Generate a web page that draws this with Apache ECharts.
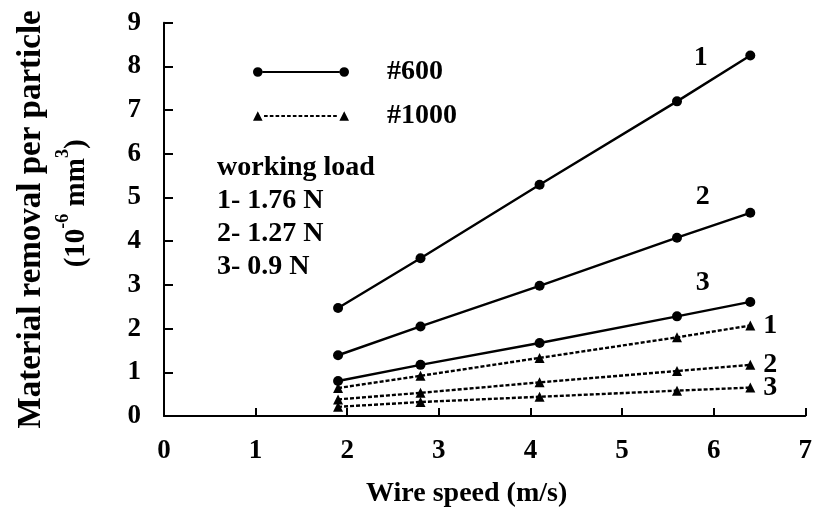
<!DOCTYPE html>
<html><head><meta charset="utf-8">
<script src="https://cdn.jsdelivr.net/npm/echarts@6/dist/echarts.min.js"></script>
<style>html,body{margin:0;padding:0;background:#fff}#c{width:815px;height:513px}</style>
</head><body><div id="c"></div>
<script>
// ---- data ----
const wireSpeed = [1.9, 2.8, 4.1, 5.6, 6.4];
const mesh600Load1 = [2.47, 3.61, 5.29, 7.20, 8.25];
const mesh600Load2 = [1.39, 2.05, 2.98, 4.08, 4.65];
const mesh600Load3 = [0.80, 1.17, 1.67, 2.28, 2.61];
const mesh1000Load1 = [0.64, 0.92, 1.33, 1.80, 2.07];
const mesh1000Load2 = [0.38, 0.53, 0.77, 1.03, 1.17];
const mesh1000Load3 = [0.21, 0.32, 0.44, 0.58, 0.65];
const loadIds = ['1', '2', '3'];
const mesh600LabelAt = [[5.86, 8.2], [5.88, 5.02], [5.88, 3.05]];
const xTicks = [0, 1, 2, 3, 4, 5, 6, 7];
const yTicks = [0, 1, 2, 3, 4, 5, 6, 7, 8, 9];
const noteLines = ['working load', '1- 1.76 N', '2- 1.27 N', '3- 0.9 N'];

const FONT = "'Liberation Serif', 'Times New Roman', serif";
const pairs = v => wireSpeed.map((x, i) => [x, v[i]]);

// legend icons (line with end markers)
const icon600 = 'path://M0,5a5,5 0 1,0 10,0a5,5 0 1,0 -10,0Z M90,5a5,5 0 1,0 10,0a5,5 0 1,0 -10,0Z M10,3.9L90,3.9L90,6.1L10,6.1Z';
let dashes = '';
for (let s = 11.5; s < 88; s += 6) {
  const e = Math.min(s + 3.8, 89);
  dashes += ` M${s},4L${e},4L${e},6L${s},6Z`;
}
const icon1000 = 'path://M0,10L5,0L10,10Z M90,10L95,0L100,10Z' + dashes;

const solid = (name, vals, idx) => ({
  name: name, type: 'line', data: pairs(vals),
  symbol: 'circle', symbolSize: 10,
  lineStyle: { color: '#000', width: 2.4 }, itemStyle: { color: '#000' },
  markPoint: {
    symbol: 'circle', symbolSize: 0,
    label: { show: true, position: 'inside', formatter: loadIds[idx], color: '#000',
             fontFamily: FONT, fontWeight: 'bold', fontSize: 28 },
    data: [{ coord: mesh600LabelAt[idx], value: loadIds[idx] }]
  }
});
const dashed = (name, vals, idx) => ({
  name: name, type: 'line', data: pairs(vals),
  symbol: 'triangle', symbolSize: 10,
  lineStyle: { color: '#000', width: 2.4, type: [4, 2] }, itemStyle: { color: '#000' },
  endLabel: { show: true, formatter: loadIds[idx], distance: 13, color: '#000',
              fontFamily: FONT, fontWeight: 'bold', fontSize: 28 }
});

const chart = echarts.init(document.getElementById('c'), null, { renderer: 'canvas' });
chart.setOption({
  animation: false,
  backgroundColor: '#fff',
  grid: { left: 156, right: 5, top: 22.7, bottom: 92, containLabel: false },
  legend: {
    orient: 'vertical', left: 248, top: 53, itemGap: 16,
    itemWidth: 96, itemHeight: 10,
    data: [{ name: '#600', icon: icon600 }, { name: '#1000', icon: icon1000 }],
    textStyle: { color: '#000', fontFamily: FONT, fontWeight: 'bold', fontSize: 28,
                 lineHeight: 28, padding: [0, 0, 0, 33] }
  },
  xAxis: {
    type: 'value', min: xTicks[0], max: xTicks[xTicks.length - 1], interval: 1,
    name: 'Wire speed (m/s)', nameLocation: 'middle', nameGap: 64,
    nameTextStyle: { color: '#000', fontFamily: FONT, fontWeight: 'bold', fontSize: 28, padding: [0, 36, 0, 0] },
    axisLine: { lineStyle: { color: '#000', width: 2 } },
    axisTick: { inside: true, length: 8, lineStyle: { color: '#000', width: 2 } },
    axisLabel: { color: '#000', fontFamily: FONT, fontWeight: 'bold', fontSize: 27, margin: 22 },
    splitLine: { show: false }
  },
  yAxis: {
    type: 'value', min: yTicks[0], max: yTicks[yTicks.length - 1], interval: 1,
    name: 'Material removal per particle\n{a|(10}{s|-6}{b| mm}{s|3}{b|)}',
    nameLocation: 'middle', nameRotate: 90, nameGap: 64,
    nameTextStyle: {
      color: '#000', fontFamily: FONT, fontWeight: 'bold', fontSize: 33, lineHeight: 46,
      rich: {
        a: { color: '#000', fontFamily: FONT, fontWeight: 'bold', fontSize: 29, padding: [0, 0, 0, 32] },
        b: { color: '#000', fontFamily: FONT, fontWeight: 'bold', fontSize: 29 },
        s: { color: '#000', fontFamily: FONT, fontWeight: 'bold', fontSize: 18, verticalAlign: 'top' }
      }
    },
    axisLine: { show: true, lineStyle: { color: '#000', width: 2 } },
    axisTick: { show: true, inside: true, length: 9, lineStyle: { color: '#000', width: 2 } },
    axisLabel: { color: '#000', fontFamily: FONT, fontWeight: 'bold', fontSize: 27, margin: 23 },
    splitLine: { show: false }
  },
  graphic: [{
    type: 'text', left: 217, top: 151,
    style: { text: noteLines.join('\n'), fill: '#000', font: `bold 28px ${FONT}`, lineHeight: 33 }
  }],
  series: [
    solid('#600', mesh600Load1, 0), solid('#600', mesh600Load2, 1), solid('#600', mesh600Load3, 2),
    dashed('#1000', mesh1000Load1, 0), dashed('#1000', mesh1000Load2, 1), dashed('#1000', mesh1000Load3, 2)
  ]
});
</script></body></html>
